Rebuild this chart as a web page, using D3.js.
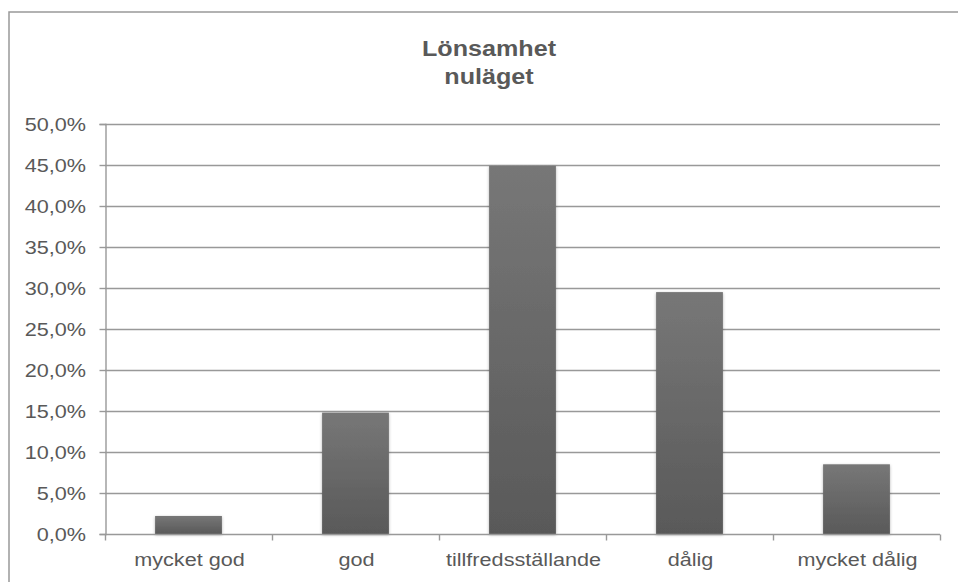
<!DOCTYPE html>
<html>
<head>
<meta charset="utf-8">
<script src="https://cdn.jsdelivr.net/npm/d3@7"></script>
<style>
  body { margin: 0; background: #fff; }
  text { font-family: "Liberation Sans", Arial, sans-serif; fill: #595959; }
</style>
</head>
<body>
<svg id="chart" width="958" height="582"></svg>
<script>
const categories = ["mycket god", "god", "tillfredsställande", "dålig", "mycket dålig"];
const values = [2.2, 14.8, 44.9, 29.5, 8.5];
const yTicks = [0, 5, 10, 15, 20, 25, 30, 35, 40, 45, 50];
const titleLines = ["Lönsamhet", "nuläget"];

const svg = d3.select("#chart");
const stretch = 1.17; // the picture's text is a bit wider than it is tall

// chart frame
svg.append("rect")
  .attr("x", 9).attr("y", 12)
  .attr("width", 970).attr("height", 600)
  .attr("fill", "#fff")
  .attr("stroke", "#999").attr("stroke-width", 1.5);

const defs = svg.append("defs");
const grad = defs.append("linearGradient")
  .attr("id", "barGrad").attr("x1", 0).attr("y1", 0).attr("x2", 0).attr("y2", 1);
grad.append("stop").attr("offset", "0%").attr("stop-color", "#777777");
grad.append("stop").attr("offset", "100%").attr("stop-color", "#595959");

const shadow = defs.append("filter").attr("id", "shadow")
  .attr("x", "-20%").attr("y", "-20%").attr("width", "140%").attr("height", "140%");
shadow.append("feDropShadow")
  .attr("dx", 0).attr("dy", 1).attr("stdDeviation", 1.5)
  .attr("flood-color", "#000").attr("flood-opacity", 0.3);

const plotLeft = 105, plotRight = 940, plotTop = 124, plotBottom = 534;

const x = d3.scaleBand().domain(categories).range([plotLeft, plotRight]).paddingInner(0.6).paddingOuter(0.3);
const xTickScale = d3.scaleBand().domain(categories).range([plotLeft, plotRight]);
const y = d3.scaleLinear().domain([0, 50]).range([plotBottom, plotTop]);

const fmt = v => d3.format(".1f")(v).replace(".", ",") + "%";
const gridColor = "#999";

// gridlines
svg.append("g")
  .selectAll("line")
  .data(yTicks.filter(d => d > 0))
  .join("line")
  .attr("x1", plotLeft).attr("x2", plotRight)
  .attr("y1", d => Math.round(y(d)) + 0.5).attr("y2", d => Math.round(y(d)) + 0.5)
  .attr("stroke", gridColor).attr("stroke-width", 1.4);

// y axis
const yAxis = svg.append("g")
  .attr("transform", `translate(${plotLeft + 0.5},0)`)
  .call(d3.axisLeft(y).tickValues(yTicks).tickFormat("").tickSize(6));
yAxis.select(".domain").attr("stroke", gridColor).attr("stroke-width", 1.4);
yAxis.selectAll(".tick line").attr("stroke", gridColor).attr("stroke-width", 1.4);

svg.append("g")
  .selectAll("text")
  .data(yTicks)
  .join("text")
  .attr("transform", d => `translate(86,${y(d) + 6.5}) scale(${stretch},1)`)
  .attr("text-anchor", "end")
  .attr("font-size", 18.5)
  .text(fmt);

// bars
svg.append("g")
  .selectAll("rect")
  .data(values)
  .join("rect")
  .attr("x", (d, i) => x(categories[i]))
  .attr("width", x.bandwidth())
  .attr("y", d => y(d))
  .attr("height", d => y(0) - y(d))
  .attr("fill", "url(#barGrad)")
  .attr("filter", "url(#shadow)");

// x axis
const xAxisG = svg.append("g").attr("transform", `translate(0,${plotBottom + 0.5})`);
xAxisG.append("line")
  .attr("x1", plotLeft).attr("x2", plotRight)
  .attr("stroke", gridColor).attr("stroke-width", 1.4);
const boundaries = categories.map(c => xTickScale(c)).concat([plotRight]);
xAxisG.selectAll("line.tk")
  .data(boundaries)
  .join("line").attr("class", "tk")
  .attr("x1", d => Math.round(d) + 0.5).attr("x2", d => Math.round(d) + 0.5)
  .attr("y1", 0).attr("y2", 6)
  .attr("stroke", gridColor).attr("stroke-width", 1.4);
xAxisG.selectAll("text")
  .data(categories)
  .join("text")
  .attr("transform", d => `translate(${xTickScale(d) + xTickScale.bandwidth() / 2 + 1},31.5) scale(${stretch},1)`)
  .attr("text-anchor", "middle")
  .attr("font-size", 18.5)
  .text(d => d);

// title
svg.append("g")
  .selectAll("text")
  .data(titleLines)
  .join("text")
  .attr("transform", (d, i) => `translate(489,${56 + i * 28}) scale(${stretch},1)`)
  .attr("text-anchor", "middle")
  .attr("font-size", 21.5)
  .attr("font-weight", "bold")
  .text(d => d);
</script>
</body>
</html>
